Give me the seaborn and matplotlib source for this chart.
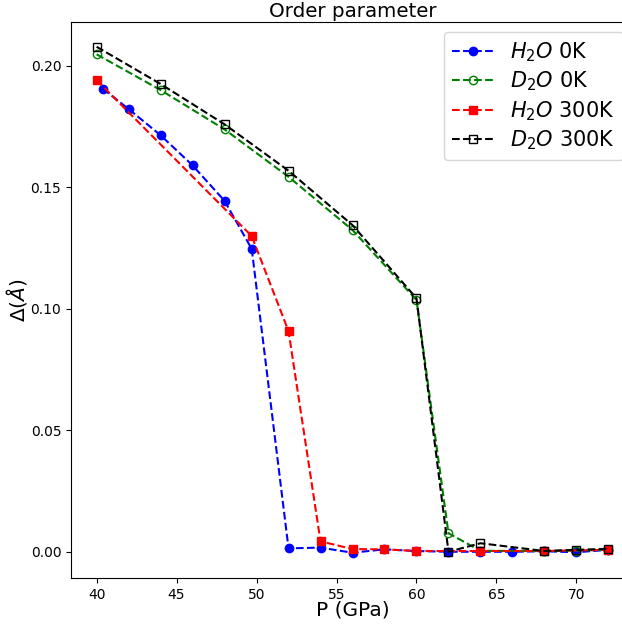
import matplotlib
matplotlib.use("Agg")
import matplotlib.pyplot as plt
import seaborn as sns
import pandas as pd

# Pressure (GPa) and order parameter Delta (Angstrom) for each run
p_h2o_0k = [40.4, 42, 44, 46, 48, 49.7, 52, 54, 56, 58, 60, 62, 64, 66, 68, 70, 72]
d_h2o_0k = [0.1905, 0.1822, 0.1714, 0.1590, 0.1444, 0.1246, 0.0014, 0.0017, -0.0004,
            0.0010, 0.0003, 0.0000, 0.0000, 0.0000, 0.0002, -0.0002, 0.0008]

p_d2o_0k = [40, 44, 48, 52, 56, 60, 62, 64, 68, 70, 72]
d_d2o_0k = [0.2047, 0.1900, 0.1738, 0.1543, 0.1324, 0.1036, 0.0076, 0.0004,
            0.0003, 0.0005, 0.0008]

p_h2o_300k = [40, 49.7, 52, 54, 56, 58, 60, 64, 68, 72]
d_h2o_300k = [0.1941, 0.1299, 0.0908, 0.0043, 0.0011, 0.0010, 0.0003, 0.0003,
              0.0003, 0.0008]

p_d2o_300k = [40, 44, 48, 52, 56, 60, 62, 64, 68, 70, 72]
d_d2o_300k = [0.2078, 0.1925, 0.1759, 0.1568, 0.1344, 0.1043, 0.0000, 0.0035,
              0.0003, 0.0008, 0.0012]

labels = [r"$H_2O$ 0K", r"$D_2O$ 0K", r"$H_2O$ 300K", r"$D_2O$ 300K"]
colors = ["b", "g", "r", "k"]
markers = ["o", "o", "s", "s"]
filled = [True, False, True, False]

series = [(p_h2o_0k, d_h2o_0k), (p_d2o_0k, d_d2o_0k),
          (p_h2o_300k, d_h2o_300k), (p_d2o_300k, d_d2o_300k)]

fig = plt.figure(figsize=(6.22, 6.28), dpi=100)
ax = fig.add_axes([71 / 622, 1 - 578 / 628, 563 / 622, (578 - 21.5) / 628])

for (p, d), lab, c, m, f in zip(series, labels, colors, markers, filled):
    df = pd.DataFrame({"P": p, "Delta": d})
    sns.lineplot(data=df, x="P", y="Delta", ax=ax, color=c, linestyle="--",
                 marker=m, markersize=6, mec=c, mew=1.0,
                 mfc=(c if f else "none"), label=lab, lw=1.5,
                 estimator=None, sort=False)

ax.set_xlim(38.4, 73.6)
ax.set_ylim(-0.0108, 0.2182)
ax.set_xticks([40, 45, 50, 55, 60, 65, 70])
ax.set_yticks([0.00, 0.05, 0.10, 0.15, 0.20])
ax.set_xlabel("P (GPa)", fontsize=14.5, labelpad=-1)
ax.set_ylabel(r"$\Delta(\AA)$", fontsize=14.5, labelpad=1)
ax.set_title("Order parameter", fontsize=14.3, pad=3)
ax.legend(loc="upper right", fontsize=15, labelspacing=0.28)

fig.savefig("out.png", dpi=100)
